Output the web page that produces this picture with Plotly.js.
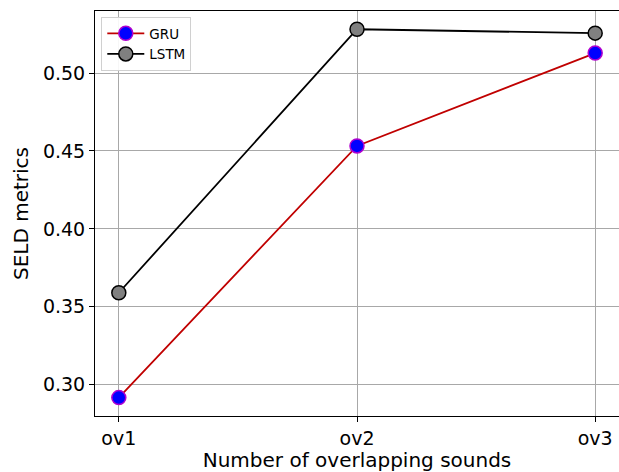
<!DOCTYPE html>
<html>
<head>
<meta charset="utf-8">
<script src="https://cdn.plot.ly/plotly-3.0.1.min.js"></script>
<style>html,body{margin:0;padding:0;background:#fff;}#chart{width:619px;height:472px;}</style>
</head>
<body>
<div id="chart"></div>
<script>
const categories = ["ov1", "ov2", "ov3"];
const gruValues = [0.2917, 0.4532, 0.5128];
const lstmValues = [0.3590, 0.5281, 0.5256];
const yTickVals = [0.30, 0.35, 0.40, 0.45, 0.50];
const yTickText = ["0.30", "0.35", "0.40", "0.45", "0.50"];

const traces = [
  {
    x: categories, y: gruValues, name: "GRU", type: "scatter", mode: "lines+markers",
    line: {color: "#c00000", width: 1.8},
    marker: {size: 14, color: "#0000ff", line: {color: "#b000d0", width: 1.5}}
  },
  {
    x: categories, y: lstmValues, name: "LSTM", type: "scatter", mode: "lines+markers",
    line: {color: "#000000", width: 1.8},
    marker: {size: 14, color: "#808080", line: {color: "#000000", width: 1.5}}
  }
];

const tickFont = {family: "DejaVu Sans, sans-serif", size: 19, color: "#000"};
const titleFont = {family: "DejaVu Sans, sans-serif", size: 20, color: "#000"};
const layout = {
  width: 619, height: 472,
  margin: {l: 95, r: 0, t: 11, b: 56},
  paper_bgcolor: "#fff", plot_bgcolor: "#fff",
  font: tickFont,
  showlegend: true,
  legend: {
    x: 0.012, y: 0.985, xanchor: "left", yanchor: "top",
    bgcolor: "rgba(255,255,255,0.9)", bordercolor: "#d0d0d0", borderwidth: 1,
    font: {family: "DejaVu Sans, sans-serif", size: 13.5, color: "#000"},
    itemwidth: 37, tracegroupgap: 0
  },
  xaxis: {
    type: "category", range: [-0.1, 2.1],
    showgrid: true, gridcolor: "#a8a8a8", gridwidth: 1,
    showline: true, linecolor: "#000", linewidth: 1, mirror: true,
    ticks: "outside", ticklen: 5, tickcolor: "#000", tickwidth: 1,
    tickfont: tickFont, zeroline: false,
    title: {text: "Number of overlapping sounds", font: titleFont, standoff: 4},
    automargin: false
  },
  yaxis: {
    range: [0.2799, 0.5398],
    tickvals: yTickVals, ticktext: yTickText,
    showgrid: true, gridcolor: "#a8a8a8", gridwidth: 1,
    showline: true, linecolor: "#000", linewidth: 1, mirror: true,
    ticks: "outside", ticklen: 5, tickcolor: "#000", tickwidth: 1,
    tickfont: tickFont, zeroline: false,
    title: {text: "SELD metrics", font: titleFont, standoff: 8},
    automargin: false
  }
};

Plotly.newPlot("chart", traces, layout, {displayModeBar: false, staticPlot: true});
</script>
</body>
</html>
